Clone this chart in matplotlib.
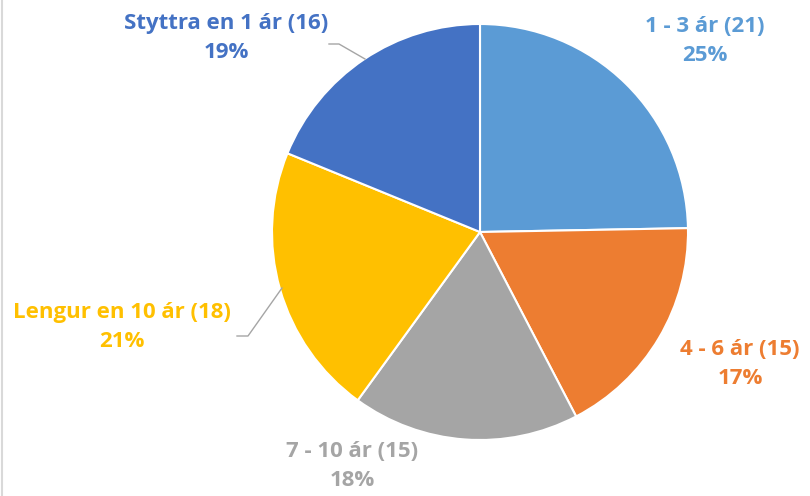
import matplotlib.pyplot as plt

labels = ['1 - 3 ár', '4 - 6 ár', '7 - 10 ár', 'Lengur en 10 ár', 'Styttra en 1 ár']
counts = [21, 15, 15, 18, 16]
pct_labels = ['25%', '17%', '18%', '21%', '19%']
colors = ['#5B9BD5', '#ED7D31', '#A5A5A5', '#FFC000', '#4472C4']

# label anchor positions (pixels, top-left origin)
label_pos = [(705, 41), (740, 364), (352, 466), (122, 327), (226, 38)]

W, H = 810, 496
fig = plt.figure(figsize=(W / 100, H / 100), dpi=100)
ax = fig.add_axes([0, 0, 1, 1])

ax.pie(counts, colors=colors, startangle=90, counterclock=False,
       center=(480, H - 232), radius=208, frame=True,
       wedgeprops=dict(edgecolor='white', linewidth=1.5))
ax.set_xlim(0, W)
ax.set_ylim(0, H)
ax.axis('off')

for i, (lab, c) in enumerate(zip(labels, counts)):
    x, y = label_pos[i]
    ax.text(x, H - y, f'{lab} ({c})\n{pct_labels[i]}', color=colors[i],
            ha='center', va='center', fontsize=16, fontweight='bold',
            family='Open Sans', linespacing=1.5)

# leader lines
ax.plot([329, 339, 365], [H - 44, H - 44, H - 59], color='#A5A5A5', lw=1)
ax.plot([237, 248, 282], [H - 336, H - 336, H - 288], color='#A5A5A5', lw=1)

# left border
ax.plot([2, 2], [0, H], color='#D9D9D9', lw=1.5)

fig.savefig('out.png', dpi=100)
